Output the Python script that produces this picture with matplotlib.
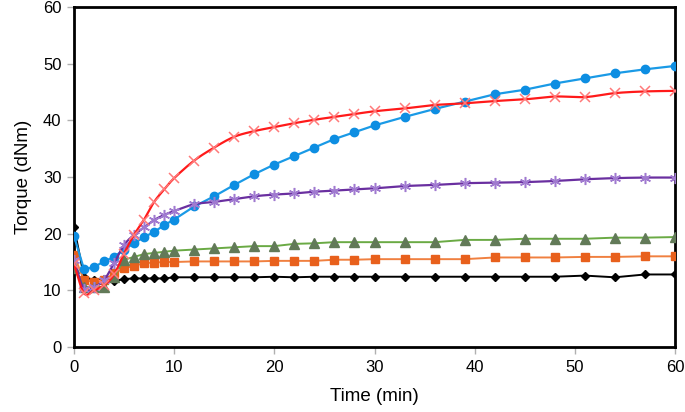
import numpy as np
import matplotlib
matplotlib.use("Agg")
from matplotlib import pyplot as plt

plt.rcParams['font.family'] = ['Liberation Sans', 'DejaVu Sans']

# sampling times (min)
t = [0, 1, 2, 3, 4, 5, 6, 7, 8, 9, 10, 12, 14, 16, 18, 20, 22, 24, 26, 28, 30,
     33, 36, 39, 42, 45, 48, 51, 54, 57, 60]

black = [21.2, 12.4, 11.8, 12.0, 11.6, 12.0, 12.1, 12.1, 12.1, 12.1, 12.3, 12.3,
         12.3, 12.3, 12.3, 12.4, 12.3, 12.4, 12.4, 12.4, 12.4, 12.4, 12.4, 12.4,
         12.4, 12.4, 12.4, 12.6, 12.3, 12.8, 12.8]
orange = [16.2, 11.8, 11.5, 11.8, 13.0, 13.9, 14.3, 14.8, 14.9, 15.0, 15.0, 15.1,
          15.1, 15.1, 15.1, 15.2, 15.2, 15.2, 15.4, 15.4, 15.5, 15.5, 15.5, 15.5,
          15.8, 15.8, 15.8, 15.9, 15.9, 16.0, 16.0]
green = [13.9, 10.6, 10.6, 10.6, 12.4, 15.4, 15.9, 16.4, 16.6, 16.8, 17.0, 17.2,
         17.4, 17.6, 17.8, 17.8, 18.2, 18.3, 18.5, 18.5, 18.5, 18.5, 18.5, 18.9,
         18.9, 19.1, 19.1, 19.1, 19.3, 19.3, 19.4]
blue = [19.6, 13.7, 14.1, 15.1, 15.9, 17.2, 18.3, 19.4, 20.3, 21.5, 22.5, 24.8,
        26.6, 28.6, 30.5, 32.2, 33.7, 35.2, 36.7, 37.9, 39.1, 40.6, 42.0, 43.3,
        44.6, 45.4, 46.5, 47.4, 48.3, 49.0, 49.6]
purple = [15.3, 10.2, 10.6, 11.8, 14.8, 18.0, 19.8, 21.1, 22.4, 23.3, 24.0, 25.2,
          25.6, 26.1, 26.6, 26.9, 27.1, 27.4, 27.6, 27.8, 28.0, 28.4, 28.6, 28.9,
          29.0, 29.1, 29.3, 29.6, 29.8, 29.9, 29.9]
red = [14.6, 9.5, 10.0, 10.9, 12.8, 16.5, 19.8, 22.5, 25.6, 27.8, 29.8, 32.9,
       35.2, 37.1, 38.1, 38.8, 39.5, 40.1, 40.6, 41.1, 41.6, 42.1, 42.7, 43.0,
       43.4, 43.7, 44.2, 44.1, 44.8, 45.1, 45.2]


def smooth(x, y, n=12):
    # catmull-rom curve through the points (like a smoothed excel line)
    x = np.asarray(x, float)
    y = np.asarray(y, float)
    px = np.concatenate([[2 * x[0] - x[1]], x, [2 * x[-1] - x[-2]]])
    py = np.concatenate([[2 * y[0] - y[1]], y, [2 * y[-1] - y[-2]]])
    xs, ys = [], []
    s = np.linspace(0, 1, n, endpoint=False)
    for i in range(1, len(px) - 2):
        for arr, out in ((px, xs), (py, ys)):
            p0, p1, p2, p3 = arr[i - 1], arr[i], arr[i + 1], arr[i + 2]
            out.extend(0.5 * (2 * p1 + (-p0 + p2) * s
                              + (2 * p0 - 5 * p1 + 4 * p2 - p3) * s ** 2
                              + (-p0 + 3 * p1 - 3 * p2 + p3) * s ** 3))
    xs.append(x[-1])
    ys.append(y[-1])
    return xs, ys


fig = plt.figure(figsize=(6.85, 4.12), dpi=100)
ax = fig.add_axes([74 / 685, 1 - 347 / 412, (675 - 74) / 685, (347 - 7) / 412])

ax.plot(t, black, color='black', lw=1.4, marker='D', ms=4.5, zorder=3)
ax.plot(t, orange, color='#f08040', lw=1.4, marker='s', ms=6,
        mfc='#e8601c', mec='#e8601c', zorder=3)
ax.plot(t, green, color='#6aaa44', lw=1.4, marker='^', ms=6.5,
        mfc='#627a58', mec='#627a58', zorder=3)
ax.plot(t, blue, color='#1a9ae6', lw=1.6, marker='o', ms=6,
        mfc='#0d8ee2', mec='#0d8ee2', zorder=4)
px, py = smooth(t, purple)
ax.plot(px, py, color='#6a2fa0', lw=1.6, zorder=4)
ax.plot(t, purple, ls='none', marker=(6, 2, 0), ms=8, mec='#a07ad0', mew=1.1, zorder=4)
rx, ry = smooth(t, red)
ax.plot(rx, ry, color='#ff1a1a', lw=1.6, zorder=5)
ax.plot(t, red, ls='none', marker='x', ms=7, mec='#ff7a7a', mew=1.1, zorder=5)

ax.set_xlim(0, 60)
ax.set_ylim(0, 60)
ax.set_xticks(range(0, 61, 10))
ax.set_yticks(range(0, 61, 10))
for s in ax.spines.values():
    s.set_linewidth(2)
    s.set_color('black')
ax.tick_params(axis='both', direction='out', length=5, width=1, color='#b0b0b0',
               labelsize=12, pad=4)
ax.set_xlabel('Time (min)', fontsize=13.5, labelpad=10)
ax.set_ylabel('Torque (dNm)', fontsize=13.5, labelpad=8)

fig.savefig('out.png', dpi=100)
